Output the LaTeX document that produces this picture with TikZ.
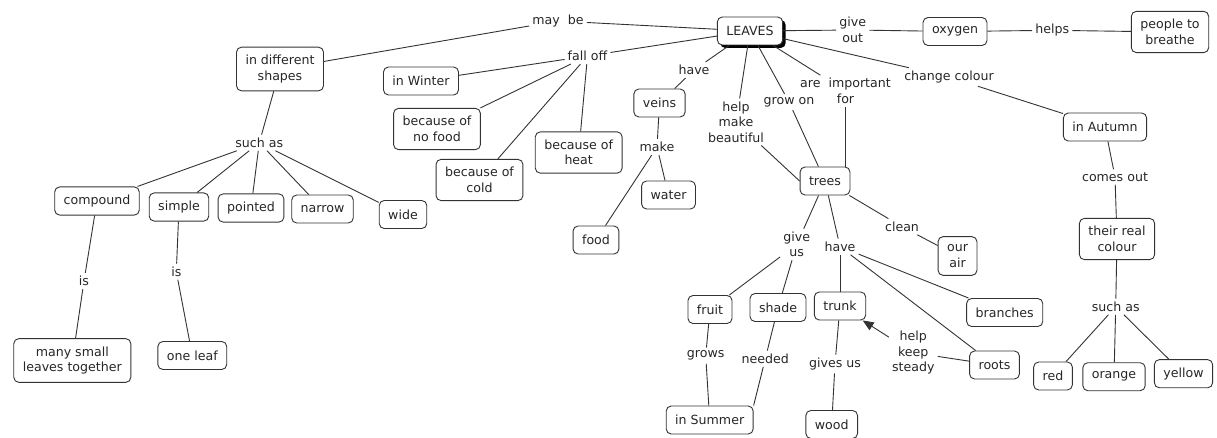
\documentclass[tikz,border=0pt]{standalone}
\usepackage{fontspec}
\setmainfont{DejaVu Sans}
\usetikzlibrary{arrows.meta,shadows}

\begin{document}
\begin{tikzpicture}[x=1pt,y=-1pt,>={Triangle[length=11pt,width=9pt]},
  every node/.style={font=\fontsize{12.6}{15.5}\selectfont,text=black!85},
  concept/.style={draw=black!80,line width=0.9pt,rounded corners=5pt,fill=white,
                  align=center,inner xsep=9pt,inner ysep=8pt,minimum height=28pt},
  link/.style={align=center,inner sep=3pt},
  conn/.style={draw=black!80,line width=0.9pt}]
\useasboundingbox (0,0) rectangle (1217,438);
% concepts
\node[concept,drop shadow={shadow xshift=3pt,shadow yshift=-3pt,fill=black,opacity=1}]
      (leaves) at (750,31) {LEAVES};
\node[concept] (oxygen)   at (955,31.5)    {oxygen};
\node[concept] (breathe)  at (1170,32)     {people to\\breathe};
\node[concept] (shapes)   at (280,69)      {in different\\shapes};
\node[concept] (winter)   at (421,81)      {in Winter};
\node[concept] (nofood)   at (437,129)     {because of\\no food};
\node[concept] (cold)     at (479.5,180)   {because of\\cold};
\node[concept] (heat)     at (578.7,152.5) {because of\\heat};
\node[concept] (veins)    at (659.5,103)   {veins};
\node[concept] (water)    at (668.5,195)   {water};
\node[concept] (food)     at (596,240)     {food};
\node[concept] (trees)    at (825,181)     {trees};
\node[concept] (autumn)   at (1105,127)    {in Autumn};
\node[concept] (realcol)  at (1117,239)    {their real\\colour};
\node[concept] (air)      at (957.5,256)   {our\\air};
\node[concept] (branches) at (1004.7,312.5){branches};
\node[concept] (roots)    at (994.5,365)   {roots};
\node[concept] (red)      at (1053,376)    {red};
\node[concept] (orange)   at (1114,376.7)  {orange};
\node[concept] (yellow)   at (1183.5,373.7){yellow};
\node[concept] (fruit)    at (710,309.5)   {fruit};
\node[concept] (shade)    at (778,307.5)   {shade};
\node[concept] (trunk)    at (840,306)     {trunk};
\node[concept] (summer)   at (709.7,420)   {in Summer};
\node[concept] (wood)     at (831.7,424.5) {wood};
\node[concept] (compound) at (97,201)      {compound};
\node[concept] (simple)   at (179,207)     {simple};
\node[concept] (pointed)  at (251,208)     {pointed};
\node[concept] (narrow)   at (322.5,209)   {narrow};
\node[concept] (wide)     at (403,214.5)   {wide};
\node[concept] (many)     at (72.3,360.5)  {many small\\leaves together};
\node[concept] (oneleaf)  at (192.3,355.5) {one leaf};
% linking phrases
\node[link] (maybe)     at (558,21)      {may~~be};
\node[link] (falloff)   at (587.5,56)    {fall off};
\node[link] (haveA)     at (694,70)      {have};
\node[link] (make)      at (657,147)     {make};
\node[link] (beautiful) at (736,122)     {help\\make\\beautiful};
\node[link] (growon)    at (789,102)     {grow on};
\node[link] (important) at (845.5,91)    {are~~important\\for};
\node[link] (giveout)   at (852.7,30)    {give\\out};
\node[link] (helps)     at (1052.3,30.3) {helps};
\node[link] (change)    at (949,77)      {change colour};
\node[link] (comesout)  at (1115,177)    {comes out};
\node[link] (suchasA)   at (259.3,142.7) {such as};
\node[link] (suchasB)   at (1115.7,306.7){such as};
\node[link] (isA)       at (84,281)      {is};
\node[link] (isB)       at (176.3,271.7) {is};
\node[link] (giveus)    at (796.7,244.5) {give\\us};
\node[link] (haveB)     at (840,246.7)   {have};
\node[link] (clean)     at (902,226.7)   {clean};
\node[link] (grows)     at (705.7,355.7) {grows};
\node[link] (needed)    at (765.3,358.7) {needed};
\node[link] (givesus)   at (835,364)     {gives us};
\node[link] (steady)    at (913.3,352.7) {help\\keep\\steady};
% connectors
\foreach \a/\b in {leaves/maybe,maybe/shapes,leaves/falloff,leaves/haveA,haveA/veins,
                   veins/make,make/water,make/food,leaves/beautiful,beautiful/trees.west,
                   leaves/growon,growon/trees,leaves/important,leaves/giveout,
                   giveout/oxygen,oxygen/helps,helps/breathe,leaves/change,change/autumn,
                   autumn/comesout,comesout/realcol,realcol/suchasB,shapes/suchasA,
                   compound/isA,isA/many,simple/isB,isB/oneleaf,trees/giveus,trees/haveB,
                   trees/clean,clean/air,giveus/fruit,giveus/shade,haveB/trunk,
                   haveB/branches,haveB/roots,fruit/grows,grows/summer,shade/needed,
                   needed/summer.north east,trunk/givesus,givesus/wood,roots/steady}
  \draw[conn] (\a) -- (\b);
\foreach \t in {winter,nofood,cold,heat}
  \draw[conn] (falloff) -- (\t);
\foreach \t in {compound,simple,pointed,narrow,wide}
  \draw[conn] (suchasA) -- (\t);
\foreach \t in {red,orange,yellow}
  \draw[conn] (suchasB) -- (\t);
\draw[conn] (important.south) -- (important.south |- trees.north);
\draw[conn,->] (steady) -- (trunk);
\end{tikzpicture}
\end{document}
